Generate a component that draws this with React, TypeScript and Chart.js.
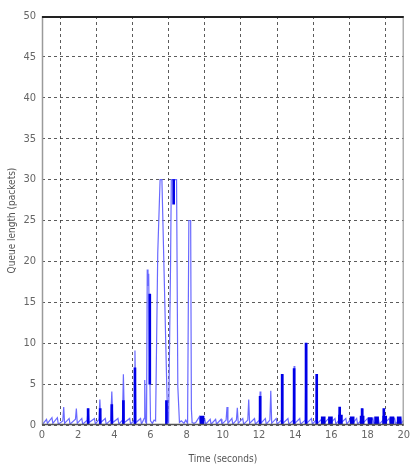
import React, { useEffect, useRef } from "react";
import { Chart, registerables } from "chart.js";

Chart.register(...registerables);

// ---- Data ----
// Phase 1: growing spikes (0 - 5.7 s)
const time1 = [0, 0.25, 0.3, 0.55, 0.6, 0.85, 0.9, 1.15, 1.2, 1.25, 1.5, 1.55, 1.85, 1.9, 1.95, 2.2, 2.25, 2.5, 2.55, 2.6, 2.9, 2.95, 3.15, 3.2, 3.25, 3.5, 3.55, 3.8, 3.86, 3.92, 4.2, 4.25, 4.45, 4.5, 4.56, 4.85, 4.9, 5.1, 5.14, 5.2, 5.45, 5.5, 5.65, 5.68, 5.72];
const queue1 = [0, 0.7, 0.2, 0.9, 0.2, 0.9, 0.1, 0.5, 2.2, 0.2, 0.8, 0.1, 0.7, 2.0, 0.2, 0.8, 0.1, 0.6, 2.0, 0.3, 0.8, 0.1, 0.7, 3.1, 0.3, 0.8, 0.1, 0.6, 4.1, 0.3, 0.8, 0.1, 0.6, 6.2, 0.3, 0.8, 0.1, 0.6, 9.1, 0.3, 0.8, 0.1, 0.8, 5.5, 0.4];

// Phase 2: congestion burst (5.7 - 8.4 s)
const time2 = [5.78, 5.82, 5.86, 5.9, 5.95, 6.0, 6.1, 6.2, 6.28, 6.4, 6.53, 6.63, 6.9, 6.95, 7.0, 7.11, 7.15, 7.44, 7.51, 7.6, 7.7, 7.85, 7.95, 8.05, 8.12, 8.22, 8.26, 8.3, 8.4];
const queue2 = [0.2, 19, 17, 18.5, 8, 0.5, 0.2, 0.6, 0.5, 21, 30, 30, 4.7, 0.5, 0.3, 20, 30, 30, 4.7, 0.3, 0.5, 0.2, 0.6, 0.2, 25, 25, 2, 0.3, 0.2];

// Phase 3: recovery (8.4 - 20 s)
const time3 = [8.5, 8.7, 8.75, 9.0, 9.05, 9.3, 9.35, 9.6, 9.65, 9.9, 9.95, 10.18, 10.23, 10.28, 10.5, 10.55, 10.75, 10.8, 10.85, 11.1, 11.15, 11.38, 11.43, 11.48, 11.75, 11.8, 12.02, 12.06, 12.1, 12.35, 12.4, 12.6, 12.65, 12.7, 12.95, 13.0, 13.24, 13.28, 13.32, 13.6, 13.65, 13.9, 13.94, 13.98, 14.25, 14.3, 14.56, 14.6, 14.64, 14.9, 14.95, 15.15, 15.19, 15.23, 15.5, 15.55, 15.85, 15.9, 16.2, 16.25, 16.42, 16.46, 16.5, 16.8, 16.85, 17.1, 17.15, 17.4, 17.45, 17.66, 17.7, 17.74, 18.0, 18.05, 18.3, 18.35, 18.6, 18.65, 18.86, 18.9, 18.94, 19.2, 19.25, 19.5, 19.55, 19.8, 19.85, 20];
const queue3 = [0.3, 1.0, 0.1, 0.7, 0.1, 0.7, 0.1, 0.7, 0.1, 0.7, 0.1, 0.6, 2.2, 0.2, 0.8, 0.1, 0.6, 2.1, 0.2, 0.8, 0.1, 0.6, 3.1, 0.2, 0.8, 0.1, 0.6, 4.1, 0.2, 0.8, 0.1, 0.6, 4.2, 0.2, 0.8, 0.1, 0.6, 6.2, 0.2, 0.8, 0.1, 0.6, 7.2, 0.2, 0.8, 0.1, 0.6, 10, 0.2, 0.8, 0.1, 0.6, 6.2, 0.2, 0.8, 0.1, 0.8, 0.1, 0.8, 0.1, 0.6, 2.2, 0.2, 0.8, 0.1, 0.8, 0.1, 0.8, 0.1, 0.6, 2.0, 0.2, 0.8, 0.1, 0.8, 0.1, 0.8, 0.1, 0.6, 2.0, 0.2, 0.8, 0.1, 0.8, 0.1, 0.8, 0.1, 0.6];

// Dense (dark) oscillation bursts: time, low, high
const burstTime = [2.55, 3.22, 3.86, 4.5, 5.14, 5.96, 6.88, 7.28, 12.06, 13.28, 13.94, 14.6, 15.19, 16.46, 17.7, 18.9];
const burstLow = [0, 0, 0, 0, 0, 5, 0, 27, 0, 0, 0, 0, 0, 0, 0, 0];
const burstHigh = [2, 2, 2.5, 3, 7, 16, 3, 30, 3.5, 6.2, 6.9, 10, 6.2, 2.2, 2, 2];

// Low wide dark blobs near the baseline
const blobTime = [8.85, 15.55, 15.95, 16.5, 17.15, 17.7, 18.15, 18.5, 18.95, 19.35, 19.75];
const blobHigh = [1.1, 1.0, 1.0, 1.2, 1.0, 1.1, 0.9, 1.0, 1.1, 1.0, 1.0];

const xTicks = [0, 2, 4, 6, 8, 10, 12, 14, 16, 18, 20];
const yTicks = [0, 5, 10, 15, 20, 25, 30, 35, 40, 45, 50];

const FONT = '"Liberation Sans Narrow", "DejaVu Sans Condensed", "Liberation Sans", sans-serif';

const boxPlugin = {
  id: "matlabBox",
  afterDatasetsDraw(chart: any) {
    const { ctx, chartArea: a } = chart;
    ctx.save();
    const seg = (x1: number, y1: number, x2: number, y2: number, c: string, w: number) => {
      ctx.beginPath();
      ctx.strokeStyle = c;
      ctx.lineWidth = w;
      ctx.moveTo(x1, y1);
      ctx.lineTo(x2, y2);
      ctx.stroke();
    };
    seg(a.left + 0.5, a.top, a.left + 0.5, a.bottom, "#9a9a9a", 1.5);
    seg(a.right - 0.5, a.top, a.right - 0.5, a.bottom, "#9a9a9a", 1.2);
    seg(a.left, a.bottom - 0.5, a.right, a.bottom - 0.5, "#555", 1.5);
    seg(a.left, a.top + 1, a.right, a.top + 1, "#222", 2);
    ctx.restore();
  },
};

export default function App() {
  const ref = useRef<HTMLCanvasElement | null>(null);
  useEffect(() => {
    if (!ref.current) return;
    const lineT = [...time1, ...time2, ...time3];
    const lineQ = [...queue1, ...queue2, ...queue3];
    const chart = new Chart(ref.current, {
      type: "line",
      data: {
        datasets: [
          {
            type: "line",
            data: lineT.map((t, i) => ({ x: t, y: lineQ[i] })),
            borderColor: "rgb(105,105,255)",
            borderWidth: 1.2,
            pointRadius: 0,
            tension: 0,
            order: 3,
          } as any,
          {
            type: "bar",
            data: burstTime.map((t, i) => ({ x: t, y: [burstLow[i], burstHigh[i]] })),
            backgroundColor: "rgb(0,0,230)",
            barThickness: 2,
            grouped: false,
            order: 1,
          } as any,
          {
            type: "bar",
            data: blobTime.map((t, i) => ({ x: t, y: blobHigh[i] })),
            backgroundColor: "rgb(0,0,225)",
            barThickness: 4,
            grouped: false,
            order: 2,
          } as any,
        ],
      },
      options: {
        animation: false,
        responsive: false,
        maintainAspectRatio: false,
        layout: { padding: { top: 16, right: 5, left: 0, bottom: 0 } },
        plugins: { legend: { display: false }, tooltip: { enabled: false } },
        scales: {
          x: {
            type: "linear",
            min: 0,
            max: 20,
            offset: false,
            afterBuildTicks: (s: any) => {
              s.ticks = xTicks.map((v) => ({ value: v }));
            },
            afterFit: (s: any) => {
              s.height = 43;
            },
            grid: { color: "rgba(50,50,50,0.8)", lineWidth: 1, drawTicks: false },
            border: { display: false, dash: [3, 3] },
            ticks: {
              padding: 4,
              color: "#666",
              font: { family: FONT, size: 11 },
              maxRotation: 0,
            },
            title: {
              display: true,
              text: "Time (seconds)",
              color: "#555",
              font: { family: FONT, size: 10 },
              padding: { top: 2, bottom: 3 },
            },
          },
          y: {
            min: 0,
            max: 50,
            afterBuildTicks: (s: any) => {
              s.ticks = yTicks.map((v) => ({ value: v }));
            },
            afterFit: (s: any) => {
              s.width = 42;
            },
            grid: { color: "rgba(50,50,50,0.8)", lineWidth: 1, drawTicks: false },
            border: { display: false, dash: [3, 3] },
            ticks: {
              padding: 6,
              color: "#666",
              font: { family: FONT, size: 11 },
            },
            title: {
              display: true,
              text: "Queue length (packets)",
              color: "#555",
              font: { family: FONT, size: 10 },
              padding: { top: 6, bottom: 0 },
            },
          },
        },
      },
      plugins: [boxPlugin],
    } as any);
    return () => chart.destroy();
  }, []);
  return (
    <div style={{ position: "fixed", left: 0, top: 0, width: 414, height: 468, background: "#fff" }}>
      <canvas ref={ref} width={414} height={468} style={{ width: 414, height: 468 }} />
    </div>
  );
}
